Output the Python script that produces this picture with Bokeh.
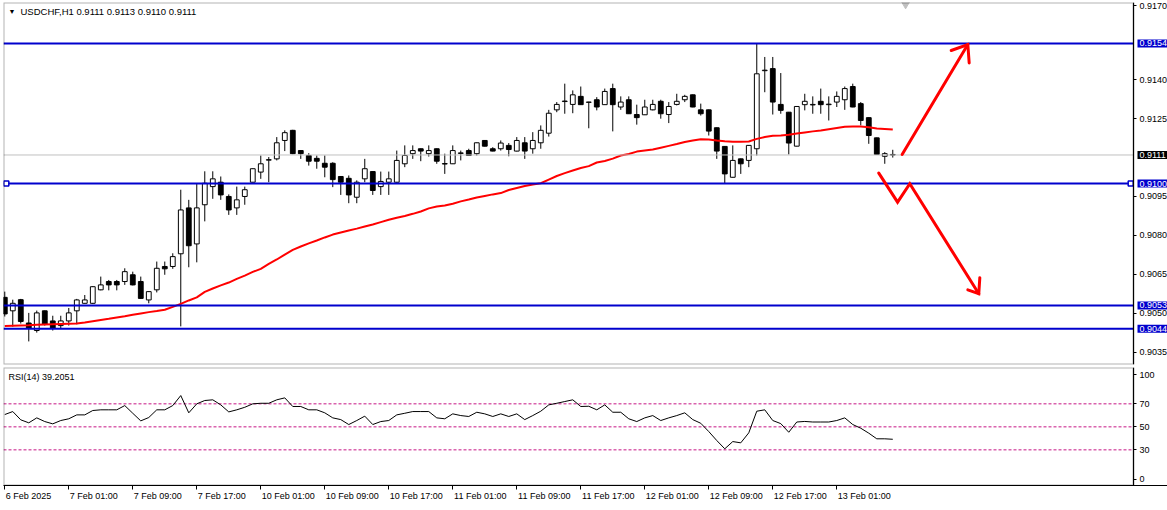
from bokeh.plotting import figure
from bokeh.layouts import column
from bokeh.models import (Range1d, FixedTicker, Label, LinearAxis, BoxAnnotation,
                          ColumnDataSource)
from bokeh.embed import file_html
from bokeh.resources import INLINE

# ---------------- data ----------------
opens = [0.90561, 0.90509, 0.90552, 0.90462, 0.90433, 0.90509, 0.90470, 0.90452, 0.90470, 0.90509,
         0.90538, 0.90538, 0.90590, 0.90622, 0.90622, 0.90622, 0.90648, 0.90622, 0.90551, 0.90590,
         0.90680, 0.90680, 0.90729, 0.90906, 0.90767, 0.90918, 0.90988, 0.91005, 0.90950, 0.90906,
         0.90950, 0.91005, 0.91044, 0.91090, 0.91095, 0.91166, 0.91205, 0.91127, 0.91108, 0.91097,
         0.91078, 0.91078, 0.91027, 0.91020, 0.90947, 0.91018, 0.91046, 0.90988, 0.91005, 0.91005,
         0.91076, 0.91115, 0.91134, 0.91115, 0.91134, 0.91075, 0.91076, 0.91116, 0.91127, 0.91115,
         0.91166, 0.91134, 0.91134, 0.91147, 0.91125, 0.91157, 0.91134, 0.91157, 0.91194, 0.91284,
         0.91316, 0.91305, 0.91336, 0.91313, 0.91323, 0.91304, 0.91366, 0.91295, 0.91323, 0.91266,
         0.91265, 0.91284, 0.91317, 0.91266, 0.91305, 0.91323, 0.91342, 0.91284, 0.91284, 0.91215,
         0.91143, 0.91024, 0.91095, 0.91089, 0.91134, 0.91435, 0.91443, 0.91305, 0.91275, 0.91144,
         0.91304, 0.91303, 0.91317, 0.91304, 0.91314, 0.91323, 0.91374, 0.91308, 0.91254, 0.91176,
         0.91105, 0.91110]
highs = [0.90583, 0.90552, 0.90555, 0.90501, 0.90510, 0.90510, 0.90490, 0.90490, 0.90520, 0.90555,
         0.90570, 0.90604, 0.90641, 0.90628, 0.90628, 0.90673, 0.90660, 0.90641, 0.90584, 0.90699,
         0.90699, 0.90731, 0.90976, 0.90937, 0.90999, 0.91047, 0.91047, 0.91027, 0.90958, 0.90988,
         0.90988, 0.91058, 0.91108, 0.91102, 0.91179, 0.91205, 0.91207, 0.91128, 0.91117, 0.91108,
         0.91108, 0.91082, 0.91028, 0.91031, 0.91012, 0.91095, 0.91047, 0.91046, 0.91046, 0.91127,
         0.91147, 0.91147, 0.91135, 0.91147, 0.91135, 0.91115, 0.91147, 0.91127, 0.91134, 0.91158,
         0.91167, 0.91140, 0.91166, 0.91156, 0.91179, 0.91179, 0.91198, 0.91224, 0.91284, 0.91314,
         0.91385, 0.91359, 0.91374, 0.91315, 0.91333, 0.91366, 0.91385, 0.91336, 0.91336, 0.91304,
         0.91323, 0.91323, 0.91323, 0.91314, 0.91346, 0.91342, 0.91343, 0.91308, 0.91285, 0.91216,
         0.91144, 0.91147, 0.91096, 0.91148, 0.91540, 0.91488, 0.91488, 0.91426, 0.91276, 0.91298,
         0.91346, 0.91336, 0.91366, 0.91336, 0.91355, 0.91374, 0.91385, 0.91314, 0.91255, 0.91177,
         0.91121, 0.91130]
lows = [0.90487, 0.90448, 0.90460, 0.90391, 0.90425, 0.90452, 0.90433, 0.90439, 0.90452, 0.90457,
        0.90537, 0.90536, 0.90588, 0.90588, 0.90588, 0.90609, 0.90607, 0.90555, 0.90538, 0.90580,
        0.90648, 0.90671, 0.90449, 0.90677, 0.90696, 0.90854, 0.90941, 0.90937, 0.90879, 0.90879,
        0.90918, 0.91004, 0.91018, 0.91005, 0.91089, 0.91125, 0.91113, 0.91095, 0.91069, 0.91057,
        0.91024, 0.90986, 0.90956, 0.90924, 0.90924, 0.91005, 0.90956, 0.90956, 0.90956, 0.91003,
        0.91063, 0.91095, 0.91086, 0.91104, 0.91076, 0.91037, 0.91075, 0.91089, 0.91107, 0.91108,
        0.91143, 0.91124, 0.91127, 0.91105, 0.91124, 0.91095, 0.91115, 0.91134, 0.91181, 0.91275,
        0.91269, 0.91271, 0.91303, 0.91213, 0.91282, 0.91303, 0.91201, 0.91284, 0.91268, 0.91227,
        0.91264, 0.91282, 0.91250, 0.91233, 0.91301, 0.91314, 0.91294, 0.91262, 0.91185, 0.91095,
        0.91001, 0.91023, 0.91037, 0.91063, 0.91108, 0.91352, 0.91266, 0.91269, 0.91112, 0.91143,
        0.91282, 0.91269, 0.91269, 0.91243, 0.91295, 0.91284, 0.91294, 0.91224, 0.91153, 0.91111,
        0.91076, 0.91100]
closes = [0.90497, 0.90538, 0.90468, 0.90441, 0.90501, 0.90457, 0.90441, 0.90470, 0.90501, 0.90551,
          0.90551, 0.90602, 0.90609, 0.90609, 0.90609, 0.90660, 0.90609, 0.90557, 0.90583, 0.90673,
          0.90671, 0.90718, 0.90898, 0.90760, 0.90906, 0.91001, 0.91018, 0.90956, 0.90898, 0.90937,
          0.90976, 0.91057, 0.91076, 0.91092, 0.91157, 0.91196, 0.91115, 0.91115, 0.91086, 0.91086,
          0.91063, 0.91015, 0.91005, 0.90956, 0.91005, 0.91057, 0.90973, 0.91008, 0.91018, 0.91089,
          0.91108, 0.91127, 0.91125, 0.91127, 0.91086, 0.91077, 0.91127, 0.91118, 0.91108, 0.91157,
          0.91144, 0.91125, 0.91156, 0.91131, 0.91166, 0.91125, 0.91166, 0.91205, 0.91271, 0.91305,
          0.91318, 0.91342, 0.91304, 0.91314, 0.91295, 0.91355, 0.91304, 0.91314, 0.91269, 0.91254,
          0.91295, 0.91305, 0.91269, 0.91297, 0.91317, 0.91336, 0.91295, 0.91269, 0.91202, 0.91125,
          0.91037, 0.91089, 0.91076, 0.91147, 0.91423, 0.91437, 0.91314, 0.91282, 0.91156, 0.91297,
          0.91317, 0.91305, 0.91304, 0.91306, 0.91336, 0.91366, 0.91295, 0.91243, 0.91185, 0.91112,
          0.91115, 0.91112]
ma_values = [0.90450, 0.90451, 0.90452, 0.90453, 0.90455, 0.90456, 0.90457, 0.90458, 0.90459, 0.90460,
             0.90464, 0.90469, 0.90474, 0.90478, 0.90483, 0.90488, 0.90494, 0.90499, 0.90504, 0.90508,
             0.90513, 0.90524, 0.90536, 0.90549, 0.90561, 0.90582, 0.90595, 0.90607, 0.90618, 0.90632,
             0.90645, 0.90659, 0.90671, 0.90690, 0.90707, 0.90726, 0.90744, 0.90757, 0.90769, 0.90780,
             0.90792, 0.90803, 0.90811, 0.90819, 0.90826, 0.90834, 0.90842, 0.90851, 0.90860, 0.90868,
             0.90875, 0.90883, 0.90892, 0.90904, 0.90911, 0.90915, 0.90922, 0.90931, 0.90938, 0.90946,
             0.90952, 0.90958, 0.90963, 0.90975, 0.90983, 0.90990, 0.90996, 0.91001, 0.91015, 0.91029,
             0.91040, 0.91050, 0.91060, 0.91067, 0.91081, 0.91087, 0.91096, 0.91108, 0.91114, 0.91123,
             0.91127, 0.91131, 0.91138, 0.91145, 0.91152, 0.91160, 0.91166, 0.91171, 0.91170, 0.91166,
             0.91163, 0.91161, 0.91161, 0.91162, 0.91172, 0.91179, 0.91184, 0.91185, 0.91188, 0.91193,
             0.91197, 0.91201, 0.91204, 0.91209, 0.91214, 0.91219, 0.91220, 0.91220, 0.91217, 0.91212,
             0.91210, 0.91208]
rsi_values = [60.7, 63.3, 56.1, 53.5, 57.8, 54.6, 52.6, 55.5, 57.0, 60.4,
              60.4, 64.2, 64.8, 64.8, 64.8, 68.5, 61.8, 55.2, 58.1, 64.8,
              64.8, 68.5, 77.2, 62.2, 70.0, 72.9, 73.5, 69.1, 63.0, 64.8,
              67.0, 70.0, 70.5, 70.5, 73.5, 75.2, 67.7, 67.7, 64.8, 64.8,
              62.2, 57.8, 56.3, 52.0, 55.5, 59.3, 52.0, 54.6, 55.5, 60.4,
              61.8, 63.3, 63.3, 63.3, 57.8, 57.0, 61.3, 59.8, 59.0, 62.7,
              61.3, 59.0, 61.3, 59.0, 61.3, 56.3, 59.8, 63.6, 69.1, 70.5,
              72.0, 73.5, 67.7, 67.9, 64.8, 69.1, 62.7, 62.7, 57.0, 54.6,
              57.8, 59.8, 55.5, 57.8, 59.8, 62.2, 56.3, 53.1, 45.9, 38.1,
              30.9, 37.2, 36.1, 44.8, 63.6, 64.8, 55.5, 52.8, 45.3, 54.2,
              54.7, 54.2, 54.2, 54.2, 55.5, 57.8, 52.0, 48.8, 44.5, 39.6,
              39.6, 39.2]

time_tick_idx = [0, 8, 16, 24, 32, 40, 48, 56, 64, 72, 80, 88, 96, 104]
time_tick_labels = ["6 Feb 2025", "7 Feb 01:00", "7 Feb 09:00", "7 Feb 17:00", "10 Feb 01:00",
                    "10 Feb 09:00", "10 Feb 17:00", "11 Feb 01:00", "11 Feb 09:00", "11 Feb 17:00",
                    "12 Feb 01:00", "12 Feb 09:00", "12 Feb 17:00", "13 Feb 01:00"]
price_ticks = [0.9035, 0.9050, 0.9065, 0.9080, 0.9095, 0.9125, 0.9140, 0.9170]
level_lines = [0.9154, 0.9100, 0.9053, 0.9044]
bid_price = 0.9111
rsi_levels = [30, 50, 70]
rsi_ticks = [0, 30, 50, 70, 100]

arrow_up_x = [112.17, 120.38]
arrow_up_y = [0.91112, 0.91536]
arrow_up_head_x = [118.3, 120.38, 120.55]
arrow_up_head_y = [0.91513, 0.91536, 0.91465]
arrow_dn_x = [109.25, 111.6, 113.13, 121.75]
arrow_dn_y = [0.91040, 0.90928, 0.90999, 0.90575]
arrow_dn_head_x = [120.38, 121.75, 121.88]
arrow_dn_head_y = [0.90590, 0.90575, 0.90637]

header_text = "USDCHF,H1  0.9111 0.9113 0.9110 0.9111"
rsi_text = "RSI(14) 39.2051"

# ---------------- geometry / styling ----------------
FONT = "Liberation Sans"
BLUE = "#0000CD"
RED = "#FF0000"
FRAME_W = 1164          # frame runs under the price scale too
CHART_W = 1130          # chart area width (left of the price scale)
MAIN_H = 362
RSI_H = 118
Y_LO, Y_HI = 0.90302, 0.91698
RSI_LO, RSI_HI = -1.0, 101.6
X_START = -0.16
AXIS_X = 141.09                      # bar position of the price-scale edge
PX_PER_BAR = CHART_W / (AXIS_X - X_START)
X_END = AXIS_X + (FRAME_W - CHART_W) / PX_PER_BAR

x_range = Range1d(X_START, X_END)

idx = list(range(len(opens)))
src = ColumnDataSource(dict(
    x=idx, h=highs, l=lows,
    top=[max(o, c) for o, c in zip(opens, closes)],
    bottom=[min(o, c) for o, c in zip(opens, closes)],
    fill=["white" if c >= o else "black" for o, c in zip(opens, closes)],
))


def style_scale(ax):
    ax.major_tick_out = 3
    ax.major_tick_in = 0
    ax.minor_tick_out = 0
    ax.minor_tick_in = 0
    ax.axis_line_color = "black"
    ax.major_tick_line_color = "black"
    ax.major_label_standoff = 3
    ax.major_label_text_font = FONT
    ax.major_label_text_font_size = "9px"
    ax.major_label_text_color = "black"


# ---------------- main price panel ----------------
p = figure(frame_width=FRAME_W, frame_height=MAIN_H, x_range=x_range,
           y_range=Range1d(Y_LO, Y_HI), x_axis_location=None, y_axis_location=None,
           output_backend="svg", toolbar_location=None,
           min_border_left=3, min_border_right=0, min_border_top=2, min_border_bottom=1)
p.outline_line_color = None
p.grid.visible = False
p.background_fill_color = "white"
p.border_fill_color = "white"

# chart border (left / top / bottom; right edge is the price scale line)
p.add_layout(BoxAnnotation(left=X_START, right=AXIS_X, bottom=Y_LO, top=Y_HI,
                           fill_color=None, line_color="black", line_width=2))

# candles
p.segment(x0="x", y0="h", x1="x", y1="l", source=src, line_color="black", line_width=1)
p.vbar(x="x", top="top", bottom="bottom", width=0.6, source=src,
       fill_color="fill", line_color="black", line_width=1)

# moving average
p.line(idx, ma_values, line_color=RED, line_width=2)

# bid line and horizontal levels (end at the price scale)
p.segment(x0=[X_START], x1=[AXIS_X], y0=[bid_price], y1=[bid_price],
          line_color="#C0C0C0", line_width=1)
p.segment(x0=[X_START] * len(level_lines), x1=[AXIS_X] * len(level_lines),
          y0=level_lines, y1=level_lines, line_color=BLUE, line_width=2)

# handles of the selected 0.9100 line
p.scatter(x=[X_START + 0.35, AXIS_X - 0.35], y=[level_lines[1]] * 2, marker="square",
          size=5, fill_color="white", line_color=BLUE, line_width=1.5)

# arrows
p.multi_line(xs=[arrow_up_x, arrow_up_head_x, arrow_dn_x, arrow_dn_head_x],
             ys=[arrow_up_y, arrow_up_head_y, arrow_dn_y, arrow_dn_head_y],
             line_color=RED, line_width=3, line_join="miter", line_cap="round")

# chart-shift marker
p.scatter(x=[len(opens) + 0.6], y=[Y_HI], marker="inverted_triangle", size=11,
          fill_color="#C0C0C0", line_color="#C0C0C0")

# price scale
yax = LinearAxis(fixed_location=AXIS_X)
disp_ticks = [min(t, Y_HI - 0.00012) for t in price_ticks]
yax.ticker = FixedTicker(ticks=disp_ticks)
yax.major_label_overrides = {d: f"{t:.4f}" for d, t in zip(disp_ticks, price_ticks)}
style_scale(yax)
p.add_layout(yax, "right")

# price boxes on the scale
for lvl in level_lines:
    p.add_layout(Label(x=CHART_W + 4, y=lvl, x_units="screen", y_units="data",
                       text=f"{lvl:.4f}", text_color="white", text_font=FONT,
                       text_font_size="9px", text_baseline="middle", text_align="left",
                       background_fill_color=BLUE,
                       padding=dict(left=2, right=6, top=1, bottom=1)))
p.add_layout(Label(x=CHART_W + 4, y=bid_price, x_units="screen", y_units="data",
                   text=f"{bid_price:.4f}", text_color="white", text_font=FONT,
                   text_font_size="9px", text_baseline="middle", text_align="left",
                   background_fill_color="black",
                   padding=dict(left=2, right=6, top=1, bottom=1)))

# header
p.add_layout(Label(x=5, y=MAIN_H - 9, x_units="screen", y_units="screen", text="▼",
                   text_font=FONT, text_font_size="7px", text_baseline="middle", text_color="black"))
p.add_layout(Label(x=17, y=MAIN_H - 9, x_units="screen", y_units="screen", text=header_text,
                   text_font=FONT, text_font_size="9.5px", text_baseline="middle", text_color="black"))

# ---------------- RSI panel ----------------
r = figure(frame_width=FRAME_W, frame_height=RSI_H, x_range=x_range,
           y_range=Range1d(RSI_LO, RSI_HI), y_axis_location=None,
           output_backend="svg", toolbar_location=None,
           min_border_left=3, min_border_right=0, min_border_top=2, min_border_bottom=25)
r.outline_line_color = None
r.grid.visible = False
r.background_fill_color = "white"
r.border_fill_color = "white"

r.add_layout(BoxAnnotation(left=X_START, right=AXIS_X, bottom=RSI_LO, top=RSI_HI,
                           fill_color=None, line_color="black", line_width=2))

r.segment(x0=[X_START] * len(rsi_levels), x1=[AXIS_X] * len(rsi_levels),
          y0=rsi_levels, y1=rsi_levels, line_color="#C71585", line_width=1, line_dash="3 2")
r.line(idx, rsi_values, line_color="black", line_width=1)
r.add_layout(Label(x=5, y=RSI_H - 9, x_units="screen", y_units="screen", text=rsi_text,
                   text_font=FONT, text_font_size="9px", text_baseline="middle", text_color="black"))

rax = LinearAxis(fixed_location=AXIS_X)
rsi_disp = [max(min(t, 95.5), 4.4) for t in rsi_ticks]
rax.ticker = FixedTicker(ticks=rsi_disp)
rax.major_label_overrides = {d: str(t) for d, t in zip(rsi_disp, rsi_ticks)}
style_scale(rax)
r.add_layout(rax, "right")

# time scale: tick marks on the first axis, left-aligned labels on the second
xax = r.xaxis[0]
xax.ticker = FixedTicker(ticks=time_tick_idx)
xax.major_tick_out = 4
xax.major_tick_in = 0
xax.minor_tick_out = 0
xax.minor_tick_in = 0
xax.axis_line_color = "black"
xax.major_label_standoff = 0
xax.major_label_text_font_size = "0px"
xax.major_label_overrides = {t: "" for t in time_tick_idx}

CHAR_EM = {" ": 0.278, ":": 0.278, "F": 0.611}


def text_px(s, size=9.0):
    return sum(CHAR_EM.get(ch, 0.556) for ch in s) * size


label_centres = [t + (text_px(s) / 2 + 1) / PX_PER_BAR
                 for t, s in zip(time_tick_idx, time_tick_labels)]
tax = LinearAxis(ticker=FixedTicker(ticks=label_centres),
                 major_label_overrides={c: s for c, s in zip(label_centres, time_tick_labels)})
tax.axis_line_color = None
tax.major_tick_line_color = None
tax.major_tick_out = 0
tax.major_tick_in = 0
tax.minor_tick_out = 0
tax.minor_tick_in = 0
tax.major_label_standoff = 1
tax.major_label_text_font = FONT
tax.major_label_text_font_size = "9px"
tax.major_label_text_color = "black"
r.add_layout(tax, "below")

layout = column(p, r, spacing=0)
open("out.html", "w").write(file_html(layout, INLINE))
